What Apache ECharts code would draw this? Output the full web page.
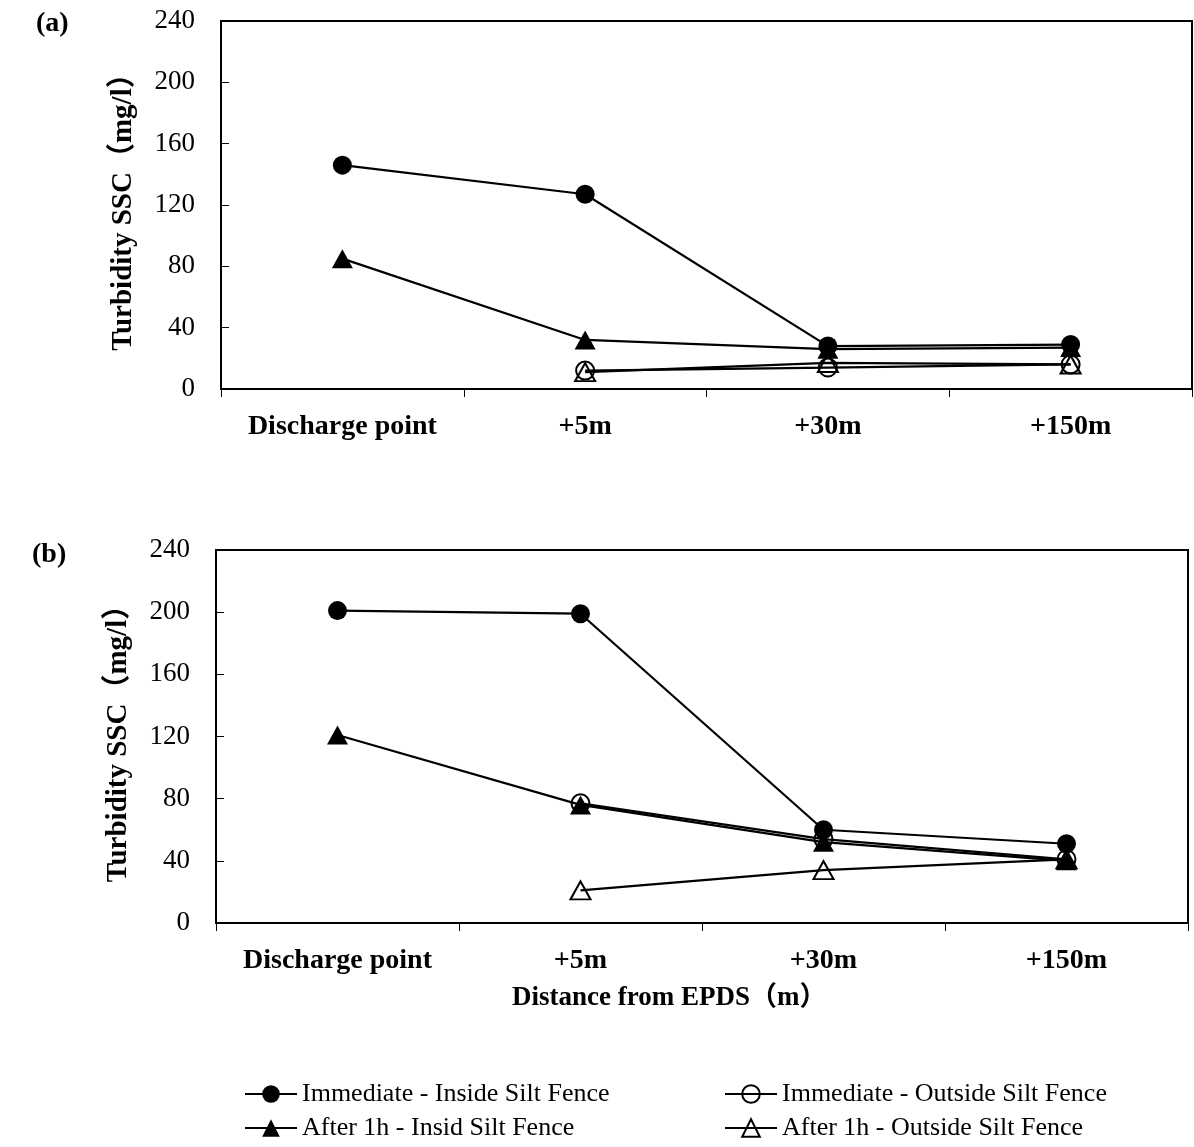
<!DOCTYPE html>
<html>
<head>
<meta charset="utf-8">
<script src="https://cdn.jsdelivr.net/npm/echarts@6/dist/echarts.min.js"></script>
<style>
  html, body { margin: 0; padding: 0; background: #fff; }
  #chart { width: 1194px; height: 1147px; }
</style>
</head>
<body>
<div id="chart"></div>
<script>
// Sampling stations along the discharge plume
const categories = ['Discharge point', '+5m', '+30m', '+150m'];

// Turbidity axis range (mg/l)
const yMin = 0;
const yMax = 240;
const yStep = 40;

// Series names
const nameImmInside = 'Immediate - Inside Silt Fence';
const nameImmOutside = 'Immediate - Outside Silt Fence';
const name1hInside = 'After 1h - Insid Silt Fence';
const name1hOutside = 'After 1h - Outside Silt Fence';

// Panel (a)
const aImmInside = [146, 127, 28, 29];
const aImmOutside = [null, 12, 14, 16];
const a1hInside = [85, 32, 26, 27];
const a1hOutside = [null, 11, 17, 16];

// Panel (b)
const bImmInside = [201, 199, 60, 51];
const bImmOutside = [null, 77, 54, 41];
const b1hInside = [121, 76, 52, 40];
const b1hOutside = [null, 21, 34, 41];

const FONT = '"Liberation Serif", "Times New Roman", "Noto Sans CJK SC", serif';
const INK = '#000';

const markerStyles = {
  filledCircle: { symbol: 'circle', symbolSize: 19, itemStyle: { color: INK } },
  filledTriangle: { symbol: 'triangle', symbolSize: [21, 19], itemStyle: { color: INK } },
  hollowCircle: { symbol: 'circle', symbolSize: 18,
    itemStyle: { color: 'rgba(255,255,255,0)', borderColor: INK, borderWidth: 2 } },
  hollowTriangle: { symbol: 'triangle', symbolSize: [20, 18],
    itemStyle: { color: 'rgba(255,255,255,0)', borderColor: INK, borderWidth: 2 } }
};

function lineSeries(name, data, gridIndex, marker) {
  const m = markerStyles[marker];
  return {
    name: name,
    type: 'line',
    xAxisIndex: gridIndex,
    yAxisIndex: gridIndex,
    data: data,
    symbol: m.symbol,
    symbolSize: m.symbolSize,
    showSymbol: true,
    itemStyle: m.itemStyle,
    lineStyle: { color: INK, width: 2.2 },
    emphasis: { disabled: true },
    animation: false
  };
}

function xAxisFor(gridIndex) {
  return {
    type: 'category',
    gridIndex: gridIndex,
    data: categories,
    boundaryGap: true,
    axisLine: { lineStyle: { color: INK, width: 2 } },
    axisTick: { show: true, inside: false, length: 8, lineStyle: { color: INK, width: 1 } },
    axisLabel: { color: INK, fontFamily: FONT, fontWeight: 'bold', fontSize: 28, margin: 24,
      interval: 0, hideOverlap: false },
    splitLine: { show: false }
  };
}

function yAxisFor(gridIndex) {
  return {
    type: 'value',
    gridIndex: gridIndex,
    min: yMin,
    max: yMax,
    interval: yStep,
    axisLine: { show: true, lineStyle: { color: INK, width: 2 } },
    axisTick: { show: true, inside: true, length: 8, lineStyle: { color: INK, width: 1 } },
    axisLabel: { color: INK, fontFamily: FONT, fontSize: 27, margin: 26 },
    splitLine: { show: false },
    name: 'Turbidity SSC（mg/l）',
    nameLocation: 'middle',
    nameGap: 83,
    nameTextStyle: { color: INK, fontFamily: FONT, fontWeight: 'bold', fontSize: 29 }
  };
}

const legendText = { color: INK, fontFamily: FONT, fontSize: 26, lineHeight: 26 };

function legendItem(name, left, top) {
  return {
    orient: 'horizontal', left: left, top: top, padding: 0,
    itemWidth: 52, itemHeight: 22, itemGap: 0,
    data: [name], textStyle: legendText, selectedMode: false
  };
}

const option = {
  backgroundColor: '#fff',
  animation: false,
  grid: [
    { left: 221, top: 21, width: 971, height: 368, show: true, borderColor: INK, borderWidth: 2 },
    { left: 216, top: 550, width: 972, height: 373, show: true, borderColor: INK, borderWidth: 2 }
  ],
  xAxis: [xAxisFor(0), xAxisFor(1)],
  yAxis: [yAxisFor(0), yAxisFor(1)],
  legend: [
    legendItem(nameImmInside, 244, 1081),
    legendItem(name1hInside, 244, 1115),
    legendItem(nameImmOutside, 724, 1081),
    legendItem(name1hOutside, 724, 1115)
  ],
  graphic: [
    { type: 'text', left: 36, top: 10,
      style: { text: '(a)', fill: INK, font: 'bold 28px ' + FONT } },
    { type: 'text', left: 32, top: 541,
      style: { text: '(b)', fill: INK, font: 'bold 28px ' + FONT } },
    { type: 'text', left: 512, top: 985,
      style: { text: 'Distance from EPDS（m）', fill: INK, font: 'bold 27px ' + FONT } }
  ],
  series: [
    lineSeries(nameImmInside, aImmInside, 0, 'filledCircle'),
    lineSeries(nameImmOutside, aImmOutside, 0, 'hollowCircle'),
    lineSeries(name1hInside, a1hInside, 0, 'filledTriangle'),
    lineSeries(name1hOutside, a1hOutside, 0, 'hollowTriangle'),
    lineSeries(nameImmInside, bImmInside, 1, 'filledCircle'),
    lineSeries(nameImmOutside, bImmOutside, 1, 'hollowCircle'),
    lineSeries(name1hInside, b1hInside, 1, 'filledTriangle'),
    lineSeries(name1hOutside, b1hOutside, 1, 'hollowTriangle')
  ]
};

const chart = echarts.init(document.getElementById('chart'), null, { renderer: 'canvas' });
chart.setOption(option);
</script>
</body>
</html>
